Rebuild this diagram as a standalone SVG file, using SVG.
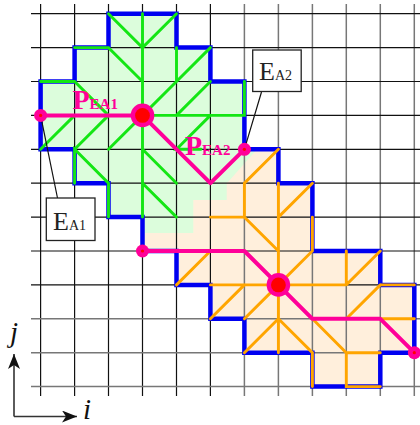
<svg xmlns="http://www.w3.org/2000/svg" width="420" height="425" viewBox="0 0 420 425">
<style>
.gk{stroke:#111;stroke-width:1.2;fill:none}
.gg{stroke:#777;stroke-width:1.5;fill:none}
.green{stroke:#14e614;stroke-width:2.9;fill:none;stroke-linecap:round}
.orange{stroke:#ffa500;stroke-width:2.9;fill:none;stroke-linecap:round}
.pink{stroke:#ff0099;stroke-width:4;fill:none;stroke-linejoin:round}
.lead{stroke:#111;stroke-width:1.2;fill:none}
.box{fill:#fff;stroke:#222;stroke-width:1.3}
.lbl{font-family:"Liberation Serif",serif;font-size:26px;fill:#222}
.sub{font-size:14px}
.pl{font-family:"Liberation Serif",serif;font-weight:bold;font-size:28px;fill:#ff0099}
.psub{font-size:15px}
.ax{font-family:"Liberation Serif",serif;font-style:italic;font-size:29px;fill:#111}
.dotb{fill:#ff0099}
.dotr{fill:#ff0000}
</style>
<defs>
<marker id="ah" markerUnits="userSpaceOnUse" markerWidth="16" markerHeight="12" refX="15" refY="6" orient="auto"><path d="M0 0L15 6L0 12L4 6Z" fill="#111"/></marker>
</defs>
<g id="fills">
<path fill="#ffefdc" d="M142.5 225V251H176.5V284.9H210.4V318.8H244.4V352.7H312.4V386.6H380.3V352.7H414.3V284.9H380.3V251H312.4V183.2H278.4V149.3H244.4L190 190V225Z"/>
<path fill="#dcfddc" d="M108.5 13.7H176.5V47.6H210.4V81.5H244.4V149.3H257L228 182H226.7V200H193.3V233H142.5V217.1H108.5V183.2H74.6V149.3H40.6V81.5H74.6V47.6H108.5Z"/>
</g>
<g id="grid">
<path class="gk" d="M40.6 4V396M74.6 4V396M108.5 4V396M142.5 4V396M176.5 4V396M210.4 4V396"/>
<path class="gg" d="M244.4 4V396M278.4 4V396M312.4 4V396M346.3 4V396M380.3 4V396M414.3 4V396"/>
<path class="gk" d="M31 13.7H420M31 47.6H420M31 81.5H420M31 115.4H420M31 149.3H420M31 183.2H420M31 217.1H420M31 251H420M31 284.9H420"/>
<path class="gg" d="M31 318.8H420M31 352.7H420M31 386.6H420"/>
</g>
<g id="connectors">
<path id="outline" fill="none" stroke="#0000f0" stroke-width="4.5" stroke-linejoin="miter" d="M108.5 13.7H176.5V47.6H210.4V81.5H244.4V149.3H278.4V183.2H312.4V251H380.3V284.9H414.3V352.7H380.3V386.6H312.4V352.7H244.4V318.8H210.4V284.9H176.5V251H142.5V217.1H108.5V183.2H74.6V149.3H40.6V81.5H74.6V47.6H108.5Z"/>
<path id="green-lines" class="green" d="M108.5 13.7L142.5 47.6L176.5 13.7M142.5 13.7V217.1M74.6 47.6H108.5L142.5 81.5M176.5 47.6V81.5M210.4 47.6L176.5 81.5L142.5 115.4M40.6 81.5H74.6L108.5 115.4M210.4 81.5L176.5 115.4M142.5 115.4H244.4V81.5M210.4 115.4L176.5 149.3H201M40.6 149.3L74.6 115.4M74.6 149.3L108.5 115.4M108.5 149.3L142.5 115.4M74.6 183.2V149.3L108.5 183.2V217.1M142.5 149.3L176.5 183.2M142.5 183.2L176.5 217.1"/>
<path id="orange-lines" class="orange" d="M278.4 149.3L244.4 183.2V217.1M312.4 183.2L278.4 217.1M278.4 183.2V352.7M210.4 217.1H244.4L278.4 251M312.4 217.1V251L278.4 284.9M346.3 251V284.9M380.3 251L346.3 284.9H210.4M210.4 318.8L244.4 284.9M244.4 318.8L278.4 284.9M210.4 251L176.5 284.9M380.3 284.9L346.3 318.8M380.3 284.9H414.3M380.3 318.8H414.3M278.4 318.8L244.4 352.7M278.4 318.8L312.4 352.7V386.6M312.4 318.8L346.3 352.7H380.3M346.3 352.7V386.6H380.3"/>
<path id="path-ea1" class="pink" d="M40.6 115.4H142.5L210.4 183.2L244.4 149.3"/>
<path id="path-ea2" class="pink" d="M142.5 251H244.4L312.4 318.8H380.3L414.3 352.7"/>
<path class="lead" d="M40.6 115.4L57.5 198M244.4 149.3L261.5 92"/>
<path id="axis-j" d="M14 416.5V354" stroke="#333" stroke-width="1.6" fill="none" marker-end="url(#ah)"/>
<path id="axis-i" d="M14 416.5H77" stroke="#333" stroke-width="1.6" fill="none" marker-end="url(#ah)"/>
</g>
<g id="node-a1-start"><circle class="dotb" cx="40.6" cy="115.4" r="6.5"/><circle class="dotr" cx="40.6" cy="115.4" r="1.6"/></g>
<g id="node-a2-start"><circle class="dotb" cx="142.5" cy="251" r="6.5"/><circle class="dotr" cx="142.5" cy="251" r="1.6"/></g>
<g id="node-ea2"><circle class="dotb" cx="244.4" cy="149.3" r="6.5"/><circle class="dotr" cx="244.4" cy="149.3" r="1.6"/></g>
<g id="node-end"><circle class="dotb" cx="414.3" cy="352.7" r="6.5"/><circle class="dotr" cx="414.3" cy="352.7" r="1.6"/></g>
<g id="center-a1"><circle class="dotb" cx="142.5" cy="115.4" r="11.8"/><circle class="dotr" cx="142.5" cy="115.4" r="7.4"/></g>
<g id="center-a2"><circle class="dotb" cx="278.4" cy="284.9" r="11.8"/><circle class="dotr" cx="278.4" cy="284.9" r="7.4"/></g>
<g id="label-ea1"><rect class="box" x="46.3" y="198" width="48.7" height="42.5"/><text class="lbl" x="53" y="229.5">E<tspan class="sub">A1</tspan></text></g>
<g id="label-ea2"><rect class="box" x="252.7" y="50" width="48.5" height="41.5"/><text class="lbl" x="259" y="79.5">E<tspan class="sub">A2</tspan></text></g>
<g id="label-pea1"><text class="pl" x="72.5" y="109">P<tspan class="psub">EA1</tspan></text></g>
<g id="label-pea2"><text class="pl" x="185" y="154.5">P<tspan class="psub">EA2</tspan></text></g>
<g id="label-j"><text class="ax" x="10" y="342">j</text></g>
<g id="label-i"><text class="ax" x="83" y="418.5">i</text></g>
</svg>
